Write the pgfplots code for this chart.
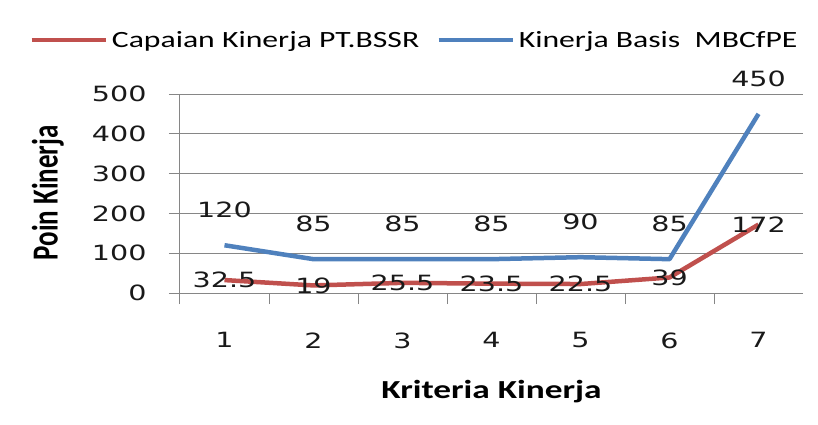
\documentclass[border=0pt]{standalone}
\usepackage{fontspec}
\usepackage{graphicx}
\usepackage{pgfplots}
\pgfplotsset{compat=1.18}
\setmainfont[FakeStretch=1.36]{Carlito}
\newfontfamily\numfont[FakeStretch=1.36]{DejaVu Sans}
\newfontfamily\titlefont{Carlito}

\definecolor{xlred}{HTML}{C0504D}
\definecolor{xlblue}{HTML}{4F81BD}
\definecolor{gridgray}{HTML}{868686}

\begin{document}
\begin{tikzpicture}
\begin{axis}[
    at={(0pt,0pt)}, anchor=south west,
    scale only axis,
    width=623pt, height=199pt,
    xmin=0.5, xmax=7.5, ymin=0, ymax=500,
    axis x line*=bottom, axis y line*=left,
    axis line style={gridgray, line width=1pt},
    xtick={0.5,1.5,...,6.5},
    xticklabels={1,2,3,4,5,6,7},
    xticklabel style={xshift=44.5pt, yshift=-25pt},
    ytick={0,100,...,500},
    yticklabel style={xshift=-19pt},
    tick align=outside,
    major tick length=11pt,
    tick style={gridgray, line width=1pt},
    ymajorgrids,
    grid style={gridgray, line width=1pt},
    /pgf/number format/assume math mode=true,
    tick label style={font=\numfont\fontsize{21}{24}\selectfont, text=black!90},
    every axis x label/.style={at={(rel axis cs:0.5,-0.497)}, anchor=center,
        font=\bfseries\fontsize{26}{30}\selectfont},
    every axis y label/.style={at={(rel axis cs:-0.212,0.503)}, anchor=center, rotate=90,
        font=\titlefont\bfseries\fontsize{27}{30}\selectfont},
    xlabel={Kriteria Kinerja},
    ylabel={\scalebox{1}[1.36]{Poin Kinerja}},
    legend columns=-1,
    legend style={draw=none, fill=none, at={(rel axis cs:-0.242,1.271)}, anchor=west,
        inner sep=0pt, font=\fontsize{23.3}{27}\selectfont,
        /tikz/every odd column/.append style={column sep=2pt},
        /tikz/every even column/.append style={column sep=15pt}},
    legend image code/.code={\draw[#1] (0pt,0pt) -- (74pt,0pt);},
    nodes near coords,
    every node near coord/.append style={text=black!90, font=\numfont\fontsize{21}{24}\selectfont},
]
\addplot[xlred, line width=4.5pt, line join=round,
    every node near coord/.append style={anchor=center}]
    coordinates {(1,32.5) (2,19) (3,25.5) (4,23.5) (5,22.5) (6,39) (7,172)};
\addlegendentry{Capaian Kinerja PT.BSSR}
\addplot[xlblue, line width=4.5pt, line join=round,
    every node near coord/.append style={anchor=center, yshift=35pt}]
    coordinates {(1,120) (2,85) (3,85) (4,85) (5,90) (6,85) (7,450)};
\addlegendentry{Kinerja Basis\ \ MBCfPE}
\end{axis}
\pgfresetboundingbox
\path[use as bounding box] (-180pt,-132pt) rectangle (638pt,293pt);
\end{tikzpicture}
\end{document}
